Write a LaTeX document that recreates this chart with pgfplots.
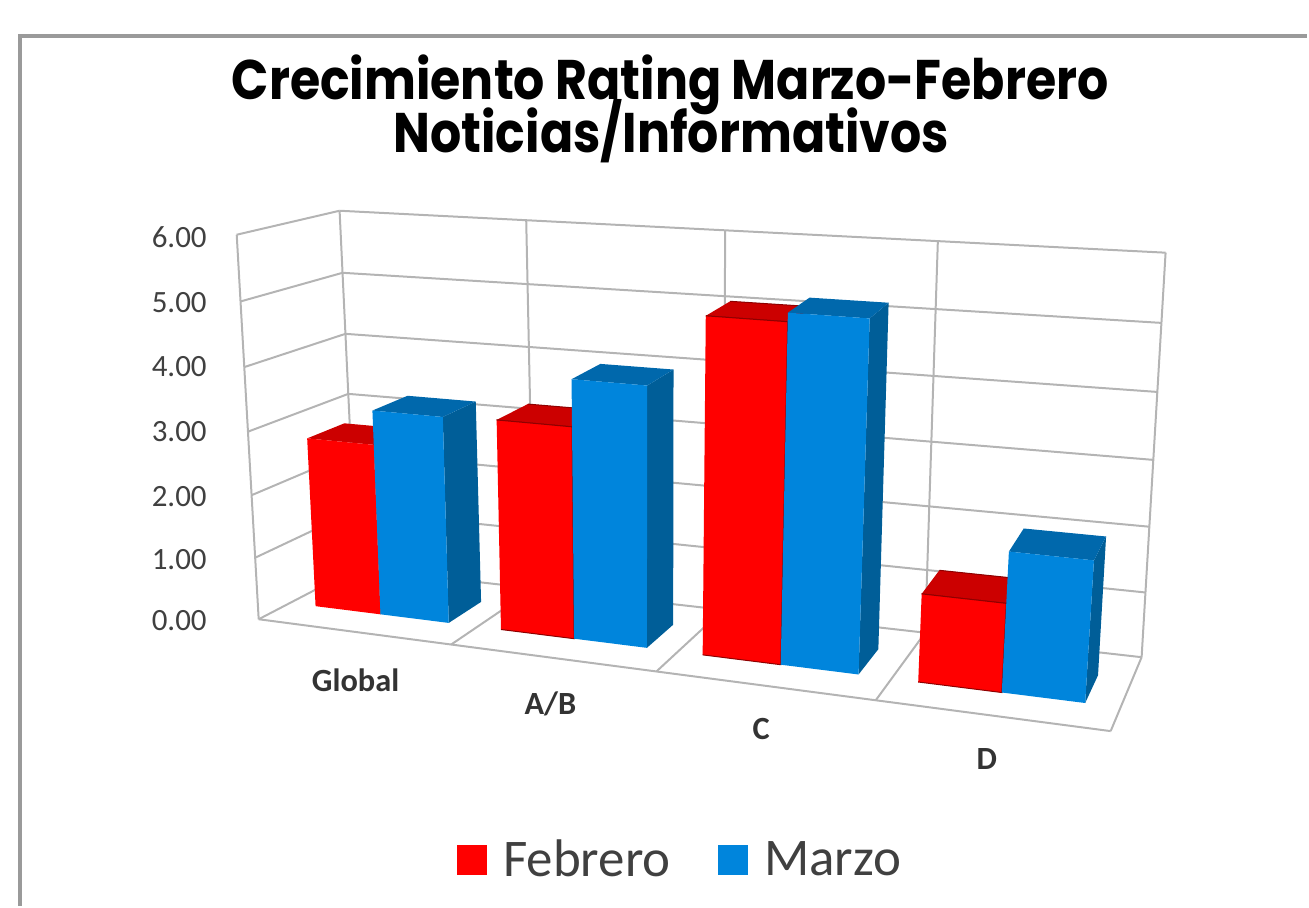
\documentclass[border=0pt]{standalone}
\usepackage{graphicx}
\usepackage{pgfplots}
\pgfplotsset{compat=1.18}
\usepackage{fontspec}
\setmainfont{Carlito}
\newfontfamily\titlefont{Poppins}[UprightFont=* Bold]
\definecolor{gridc}{HTML}{B4B4B4}
\definecolor{framec}{HTML}{9A9A9A}
\definecolor{rfront}{HTML}{FF0000}
\definecolor{rtop}{HTML}{CC0000}
\definecolor{rside}{HTML}{8E0000}
\definecolor{bfront}{HTML}{0085DC}
\definecolor{btop}{HTML}{0068AC}
\definecolor{bside}{HTML}{005E98}
\newcommand\poly[2]{\addplot[#1,forget plot] table[row sep=\\,
  x expr={px(su(\thisrow{cat}),\thisrow{d},tv(\thisrow{val}))},
  y expr={py(su(\thisrow{cat}),\thisrow{d},tv(\thisrow{val}))}]{cat d val\\ #2};}
% a bar: category-unit left, right, value, front, top, side, outline
\newcommand\barthree[7]{%
  \poly{fill=#6,#7}{#2 .32 0\\ #2 .70 0\\ #2 .70 #3\\ #2 .32 #3\\}
  \poly{fill=#5,#7}{#1 .32 #3\\ #2 .32 #3\\ #2 .70 #3\\ #1 .70 #3\\}
  \poly{fill=#4,#7}{#1 .32 0\\ #2 .32 0\\ #2 .32 #3\\ #1 .32 #3\\}}
\newcommand\gridl[2]{\poly{draw=gridc,line width=1pt}{#1\\ #2\\}}
\newcommand\ticklab[2]{\node[anchor=east,text=black!75,font=\fontsize{15.5}{15.5}\selectfont] at (axis cs:214,#2) {#1};}
\newcommand\catlab[3]{\node[font=\bfseries\fontsize{16.2}{16.2}\selectfont,text=black!80] at (axis cs:#1,#2) {#3};}
\begin{document}
\begin{tikzpicture}[declare function={
  su(\x)=(\x/4)/((\x/4)+1.142*(1-\x/4));
  tv(\x)=(\x/6)/((\x/6)+1.05*(1-\x/6));
  px(\x,\y,\z)=(1-\z)*((1-\y)*((1-\x)*259+\x*1112)+\y*((1-\x)*357+\x*1143))+\z*((1-\y)*((1-\x)*237+\x*1142)+\y*((1-\x)*340+\x*1167));
  py(\x,\y,\z)=(1-\z)*((1-\y)*((1-\x)*620+\x*732)+\y*((1-\x)*569+\x*658))+\z*((1-\y)*((1-\x)*235+\x*297)+\y*((1-\x)*211+\x*253));
}]
\begin{axis}[
  scale only axis, width=654.5pt, height=453.5pt,
  xmin=0, xmax=1309, ymin=0, ymax=907, y dir=reverse,
  hide axis, clip=false,
  legend style={at={(axis cs:682,861)},anchor=center,draw=none,fill=none,
    font=\fontsize{26.5}{27}\selectfont,legend columns=2,text=black!75,
    /tikz/every even column/.append style={column sep=22pt},
    legend cell align=left},
  legend image code/.code={\fill[#1,draw=none] (0pt,-7.5pt) rectangle (15pt,7.5pt);\path[draw=none,fill=none] (0pt,0pt) -- (21pt,0pt);},
]
% page extent
\path (axis cs:0,0) rectangle (axis cs:1309,907);
% frame
\draw[framec,line width=1.6pt] (axis cs:20,907) -- (axis cs:20,36) -- (axis cs:1309,36);
% grid: back wall and side wall
\gridl{0 1 0}{4 1 0}\gridl{0 1 1}{4 1 1}\gridl{0 1 2}{4 1 2}\gridl{0 1 3}{4 1 3}
\gridl{0 1 4}{4 1 4}\gridl{0 1 5}{4 1 5}\gridl{0 1 6}{4 1 6}
\gridl{0 0 0}{0 1 0}\gridl{0 0 1}{0 1 1}\gridl{0 0 2}{0 1 2}\gridl{0 0 3}{0 1 3}
\gridl{0 0 4}{0 1 4}\gridl{0 0 5}{0 1 5}\gridl{0 0 6}{0 1 6}
\gridl{0 0 0}{0 0 6}\gridl{0 1 0}{0 1 6}\gridl{1 1 0}{1 1 6}\gridl{2 1 0}{2 1 6}
\gridl{3 1 0}{3 1 6}\gridl{4 1 0}{4 1 6}
% grid: floor
\gridl{0 0 0}{4 0 0}\gridl{1 0 0}{1 1 0}\gridl{2 0 0}{2 1 0}\gridl{3 0 0}{3 1 0}\gridl{4 0 0}{4 1 0}
% bars: Febrero then Marzo in each category
\barthree{0.14}{0.49}{2.74}{rfront}{rtop}{rside}{draw=none}
\barthree{0.49}{0.85}{3.28}{bfront}{btop}{bside}{draw=none}
\barthree{1.12}{1.49}{3.31}{rfront}{rtop}{rside}{draw=rside,line width=.5pt}
\barthree{1.49}{1.85}{4.03}{bfront}{btop}{bside}{draw=none}
\barthree{2.12}{2.49}{5.12}{rfront}{rtop}{rside}{draw=rside,line width=.5pt}
\barthree{2.49}{2.85}{5.25}{bfront}{btop}{bside}{draw=none}
\barthree{3.12}{3.49}{1.33}{rfront}{rtop}{rside}{draw=rside,line width=.5pt}
\barthree{3.49}{3.85}{2.09}{bfront}{btop}{bside}{draw=none}
% legend
\addlegendimage{fill=rfront}\addlegendentry{Febrero}
\addlegendimage{fill=bfront}\addlegendentry{Marzo}
% tick labels
\ticklab{6.00}{237}\ticklab{5.00}{303}\ticklab{4.00}{367}\ticklab{3.00}{432}
\ticklab{2.00}{497}\ticklab{1.00}{560}\ticklab{0.00}{621}
% category labels
\catlab{356}{681}{Global}\catlab{551}{705}{A/B}\catlab{762}{730}{C}\catlab{988}{760}{D}
% title
\node[font=\titlefont\fontsize{22}{22}\selectfont] at (axis cs:671,85) {\scalebox{1.115}[1.27]{Crecimiento Rating Marzo-Febrero}};
\node[font=\titlefont\fontsize{22}{22}\selectfont] at (axis cs:672,131) {\scalebox{1.115}[1.27]{Noticias/Informativos}};
\end{axis}
\end{tikzpicture}
\end{document}
